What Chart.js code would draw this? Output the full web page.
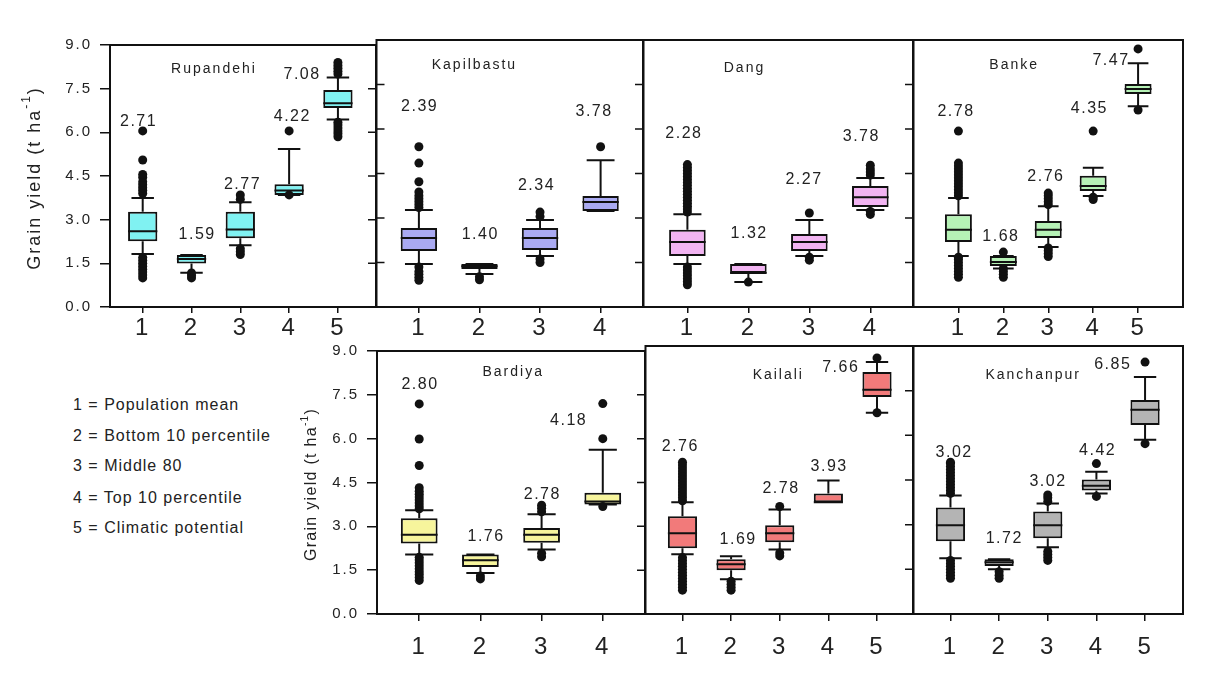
<!DOCTYPE html>
<html>
<head>
<meta charset="utf-8">
<script src="https://cdn.jsdelivr.net/npm/chart.js@4.4.1/dist/chart.umd.min.js"></script>
<style>
  body { margin: 0; background: #fff; width: 1213px; height: 678px; position: relative; overflow: hidden; font-family: "Liberation Sans", Arial, sans-serif; }
  canvas { position: absolute; }
  .key { position: absolute; left: 73px; font-size: 16px; line-height: 18px; letter-spacing: 1px; color: #222; white-space: nowrap; }
</style>
</head>
<body>
<div class="key" style="top:396px">1 = Population mean</div>
<div class="key" style="top:427px">2 = Bottom 10 percentile</div>
<div class="key" style="top:457px">3 = Middle 80</div>
<div class="key" style="top:489px">4 = Top 10 percentile</div>
<div class="key" style="top:519px">5 = Climatic potential</div>
<script>
// categories and tick labels
const groups = ["1", "2", "3", "4", "5"];
const yTicks = [0, 1.5, 3, 4.5, 6, 7.5, 9];
const districts = ["Rupandehi", "Kapilbastu", "Dang", "Banke", "Bardiya", "Kailali", "Kanchanpur"];
const groupCount = [5, 4, 4, 5, 4, 5, 5];

// grain yield (t/ha), one row per district
const meanYield = [
  [2.71, 1.59, 2.77, 4.22, 7.08],
  [2.39, 1.40, 2.34, 3.78],
  [2.28, 1.32, 2.27, 3.78],
  [2.78, 1.68, 2.76, 4.35, 7.47],
  [2.80, 1.76, 2.78, 4.18],
  [2.76, 1.69, 2.78, 3.93, 7.66],
  [3.02, 1.72, 3.02, 4.42, 6.85],
];
const boxQ1 = [
  [2.26, 1.49, 2.36, 3.85, 6.84],
  [1.89, 1.28, 1.92, 3.24],
  [1.72, 1.15, 1.89, 3.37],
  [2.19, 1.38, 2.33, 3.91, 7.18],
  [2.41, 1.61, 2.44, 3.75],
  [2.21, 1.47, 2.41, 3.75, 7.29],
  [2.44, 1.61, 2.54, 4.15, 6.35],
];
const boxMedian = [
  [2.6, 1.65, 2.66, 4.0, 7.0],
  [2.33, 1.37, 2.33, 3.54],
  [2.19, 1.15, 2.19, 3.7],
  [2.6, 1.52, 2.6, 4.08, 7.35],
  [2.71, 1.84, 2.71, 3.85],
  [2.71, 1.67, 2.71, 3.75, 7.53],
  [2.98, 1.74, 2.98, 4.31, 6.86],
];
const boxQ3 = [
  [3.27, 1.79, 3.27, 4.22, 7.45],
  [2.66, 1.45, 2.66, 3.74],
  [2.6, 1.45, 2.46, 4.08],
  [3.13, 1.72, 2.9, 4.42, 7.52],
  [3.28, 2.04, 2.94, 4.15],
  [3.28, 1.84, 2.98, 4.05, 8.13],
  [3.58, 1.84, 3.44, 4.52, 7.19],
];
const whiskerLow = [
  [1.82, 1.18, 2.12, 3.85, 6.44],
  [1.45, 1.11, 1.72, 3.24],
  [1.45, 0.84, 1.72, 3.27],
  [1.72, 1.3, 2.02, 3.74, 6.77],
  [2.04, 1.4, 2.21, 3.75],
  [2.01, 1.17, 2.17, 3.75, 6.76],
  [1.87, 1.5, 2.24, 4.05, 5.85],
];
const whiskerHigh = [
  [3.74, 1.79, 3.6, 5.43, 7.88],
  [3.27, 1.45, 2.93, 4.95],
  [3.13, 1.45, 2.93, 4.35],
  [3.67, 1.72, 3.4, 4.69, 8.22],
  [3.55, 2.04, 3.41, 5.62],
  [3.75, 1.94, 3.51, 4.48, 8.46],
  [3.98, 1.84, 3.71, 4.78, 7.96],
];
const outliers = [
  [
    [1.0, 1.1, 1.2, 1.3, 1.4, 1.5, 1.6, 1.7, 3.9, 4.0, 4.1, 4.2, 4.3, 4.45, 4.55, 5.05, 6.05],
    [1.0, 1.08, 1.17],
    [1.8, 1.9, 2.0, 3.7, 3.85],
    [3.85, 6.05],
    [5.85, 5.95, 6.05, 6.15, 6.25, 6.35, 8.0, 8.1, 8.2, 8.3, 8.4],
  ],
  [
    [0.9, 1.0, 1.1, 1.2, 1.35, 3.35, 3.45, 3.55, 3.65, 3.75, 3.88, 4.22, 4.85, 5.4],
    [0.92, 1.02],
    [1.5, 1.62, 3.05, 3.2],
    [5.4],
  ],
  [
    [0.75, 0.85, 0.95, 1.05, 1.15, 1.25, 1.35, 3.2, 3.3, 3.4, 3.5, 3.6, 3.7, 3.8, 3.9, 4.0, 4.1, 4.2, 4.3, 4.4, 4.5, 4.6, 4.7, 4.8],
    [0.84],
    [1.58, 1.68, 3.17],
    [3.12, 3.22, 4.45, 4.55, 4.65, 4.78],
  ],
  [
    [1.0, 1.1, 1.2, 1.3, 1.4, 1.5, 1.6, 1.68, 3.75, 3.85, 3.95, 4.05, 4.15, 4.25, 4.35, 4.45, 4.55, 4.65, 4.75, 4.85, 5.93],
    [1.0, 1.1, 1.2, 1.3, 1.85],
    [1.7, 1.8, 1.9, 1.99, 3.45, 3.55, 3.65, 3.75, 3.84],
    [3.62, 3.7, 5.93],
    [6.64, 8.7],
  ],
  [
    [1.15, 1.25, 1.35, 1.45, 1.55, 1.65, 1.75, 1.85, 1.94, 3.6, 3.7, 3.8, 3.9, 4.0, 4.1, 4.2, 4.32, 5.08, 5.99, 7.19],
    [1.2, 1.3],
    [1.96, 2.08, 3.5, 3.62, 3.72],
    [3.68, 6.0, 7.2],
  ],
  [
    [0.8, 0.9, 1.0, 1.1, 1.2, 1.3, 1.4, 1.5, 1.6, 1.7, 1.8, 1.9, 3.8, 3.9, 4.0, 4.1, 4.2, 4.3, 4.4, 4.5, 4.6, 4.7, 4.8, 4.9, 5.0, 5.1],
    [0.8, 0.9, 1.0, 1.1],
    [1.95, 2.05, 3.61],
    [],
    [6.76, 8.6],
  ],
  [
    [1.2, 1.3, 1.4, 1.5, 1.6, 1.7, 1.8, 4.05, 4.15, 4.25, 4.35, 4.45, 4.55, 4.65, 4.75, 4.85, 4.95, 5.05, 5.1],
    [1.2, 1.3, 1.42],
    [1.8, 1.9, 2.0, 2.1, 3.78, 3.9, 4.0],
    [3.95, 5.05],
    [5.72, 8.46],
  ],
];

// layout and styling
const boxColors = ["#80f2f2", "#aaaaf2", "#f2b4f2", "#b6f2b6", "#f7f59c", "#f27a7a", "#b4b4b4"];
const panelRect = [
  [110, 40, 376, 307], [376, 40, 643, 307], [643, 40, 913, 307], [913, 40, 1183, 307],
  [377, 346, 645, 614], [645, 346, 913, 614], [913, 346, 1183, 614],
];
const xRange = [[0.33, 5.78], [0.3, 4.7], [0.28, 4.7], [0, 6], [0.31, 4.69], [0.24, 5.74], [0.24, 5.78]];
// where the mean labels and district names sit, in axis units
const meanLabelAt = [
  [[0.9, 6.37], [2.1, 2.49], [3.03, 4.21], [4.05, 6.54], [4.25, 7.99]],
  [[1.0, 6.74], [2.0, 2.43], [2.93, 4.08], [3.88, 6.6]],
  [[0.93, 5.86], [2.0, 2.49], [2.9, 4.28], [3.84, 5.73]],
  [[0.93, 6.6], [1.93, 2.36], [2.93, 4.38], [3.9, 6.7], [4.38, 8.29]],
  [[1.0, 7.86], [2.08, 2.64], [3.0, 4.08], [3.43, 6.62]],
  [[0.94, 5.62], [2.13, 2.51], [3.01, 4.21], [4.0, 4.95], [4.24, 8.29]],
  [[1.06, 5.42], [2.09, 2.54], [2.99, 4.45], [4.01, 5.48], [4.32, 8.36]],
];
const titleAt = [[2.44, 8.16], [1.9, 8.16], [1.92, 8.05], [2.22, 8.16], [2.52, 8.26], [2.95, 8.03], [2.68, 8.03]];
const tickRight = [true, true, true, false, true, true, false];
const tickLeft = [false, true, false, false, false, false, false];

const family = '"Liberation Sans", Arial, sans-serif';
const textColor = "#222";

function whiskerPoints(i) {
  const pts = [];
  const cap = 0.23, half = 0.3;
  for (let k = 0; k < groupCount[i]; k++) {
    const c = k + 1;
    const lo = whiskerLow[i][k], hi = whiskerHigh[i][k];
    pts.push({ x: c, y: boxQ3[i][k] }, { x: c, y: hi }, { x: c, y: null });
    pts.push({ x: c - cap, y: hi }, { x: c + cap, y: hi }, { x: c, y: null });
    pts.push({ x: c, y: boxQ1[i][k] }, { x: c, y: lo }, { x: c, y: null });
    pts.push({ x: c - cap, y: lo }, { x: c + cap, y: lo }, { x: c, y: null });
    pts.push({ x: c - half, y: boxMedian[i][k] }, { x: c + half, y: boxMedian[i][k] }, { x: c, y: null });
  }
  return pts;
}

function drawYTitle(ctx, area, dx, size, spacing) {
  const big = size + "px " + family;
  const small = Math.round(size * 0.65) + "px " + family;
  ctx.save();
  ctx.letterSpacing = spacing + "px";
  ctx.fillStyle = textColor;
  ctx.textAlign = "left";
  ctx.textBaseline = "middle";
  ctx.translate(area.left + dx, (area.top + area.bottom) / 2 + 2);
  ctx.rotate(-Math.PI / 2);
  ctx.font = big;
  const main = "Grain yield (t ha";
  const w1 = ctx.measureText(main).width;
  const w3 = ctx.measureText(")").width;
  ctx.font = small;
  const w2 = ctx.measureText("-1").width;
  let x = -(w1 + w2 + w3) / 2;
  ctx.font = big;
  ctx.fillText(main, x, 0);
  x += w1;
  ctx.font = small;
  ctx.fillText("-1", x, -size * 0.45);
  x += w2;
  ctx.font = big;
  ctx.fillText(")", x, 0);
  ctx.restore();
}

function drawPanel(i) {
  const [L, T, R, B] = panelRect[i];
  const first = i === 0 || i === 4;
  const topRow = i < 4;
  const ml = i === 0 ? 110 : i === 4 ? 87 : 4;
  const mt = 12, mr = 6, mb = 45;
  const n = groupCount[i];

  const canvas = document.createElement("canvas");
  canvas.width = R - L + ml + mr;
  canvas.height = B - T + mt + mb;
  canvas.style.width = canvas.width + "px";
  canvas.style.height = canvas.height + "px";
  canvas.style.left = L - ml + "px";
  canvas.style.top = T - mt + "px";
  document.body.appendChild(canvas);

  const decor = {
    id: "decor",
    beforeDraw(chart) {
      chart.ctx.letterSpacing = "2px";
    },
    afterDraw(chart) {
      const ctx = chart.ctx;
      const a = chart.chartArea;
      const xs = chart.scales.x;
      const ys = chart.scales.y;
      ctx.save();
      ctx.strokeStyle = "#111";
      ctx.lineWidth = 2;
      ctx.strokeRect(a.left, a.top, a.right - a.left, a.bottom - a.top);
      ctx.lineWidth = 1.5;
      ctx.beginPath();
      yTicks.forEach(function (v) {
        const y = ys.getPixelForValue(v);
        if (tickRight[i]) { ctx.moveTo(a.right - 8, y); ctx.lineTo(a.right, y); }
        if (tickLeft[i]) { ctx.moveTo(a.left, y); ctx.lineTo(a.left + 8, y); }
      });
      ctx.stroke();

      ctx.fillStyle = textColor;
      ctx.textAlign = "center";
      ctx.textBaseline = "middle";
      ctx.letterSpacing = "2px";
      ctx.font = "14px " + family;
      ctx.fillText(districts[i], xs.getPixelForValue(titleAt[i][0]) + 1, ys.getPixelForValue(titleAt[i][1]));

      ctx.letterSpacing = "1.5px";
      ctx.font = "16px " + family;
      meanYield[i].forEach(function (m, k) {
        const pos = meanLabelAt[i][k];
        ctx.fillText(m.toFixed(2), xs.getPixelForValue(pos[0]) + 0.75, ys.getPixelForValue(pos[1]));
      });
      ctx.restore();

      if (i === 0) drawYTitle(ctx, a, -75, 18, 2);
      if (i === 4) drawYTitle(ctx, a, -65, 16, 1.3);
    },
  };

  new Chart(canvas.getContext("2d"), {
    type: "bar",
    data: {
      datasets: [
        {
          type: "bar",
          data: groups.slice(0, n).map((g, k) => ({ x: k + 1, y: [boxQ1[i][k], boxQ3[i][k]] })),
          backgroundColor: boxColors[i],
          borderColor: "#111",
          borderWidth: 2,
          borderSkipped: false,
          barPercentage: 0.6,
          categoryPercentage: 1,
          order: 3,
        },
        {
          type: "line",
          data: whiskerPoints(i),
          borderColor: "#111",
          borderWidth: 2,
          pointRadius: 0,
          spanGaps: false,
          fill: false,
          order: 2,
        },
        {
          type: "scatter",
          data: outliers[i].flatMap((vals, k) => vals.map((v) => ({ x: k + 1, y: v }))),
          pointRadius: 4.5,
          pointBackgroundColor: "#111",
          pointBorderWidth: 0,
          order: 1,
        },
      ],
    },
    options: {
      responsive: false,
      animation: false,
      devicePixelRatio: 1,
      layout: { padding: { left: first ? 0 : ml, top: mt, right: mr, bottom: 0 } },
      plugins: { legend: { display: false }, tooltip: { enabled: false } },
      scales: {
        x: {
          type: "linear",
          min: xRange[i][0],
          max: xRange[i][1],
          offset: false,
          afterBuildTicks: (s) => { s.ticks = groups.slice(0, n).map((g, k) => ({ value: k + 1 })); },
          afterFit: (s) => { s.height = mb; },
          ticks: {
            callback: (v) => groups[v - 1],
            color: textColor,
            font: { family: family, size: 24 },
            padding: topRow ? 1 : 12,
            maxRotation: 0,
            autoSkip: false,
          },
          grid: { offset: false, drawOnChartArea: false, tickLength: topRow ? 6 : 7, color: "#111", lineWidth: 1.5 },
          border: { display: false },
        },
        y: {
          min: 0,
          max: 9,
          display: first,
          afterBuildTicks: (s) => { s.ticks = yTicks.map((v) => ({ value: v })); },
          afterFit: (s) => { s.width = first ? ml : 0; },
          ticks: {
            callback: (v) => v.toFixed(1),
            color: textColor,
            font: { family: family, size: 15 },
            padding: 8,
          },
          grid: { drawOnChartArea: false, tickLength: 10, color: "#111", lineWidth: 1.5 },
          border: { display: false },
        },
      },
    },
    plugins: [decor],
  });
}

document.addEventListener("DOMContentLoaded", function () {
  for (let i = 0; i < districts.length; i++) drawPanel(i);
});
</script>
</body>
</html>
